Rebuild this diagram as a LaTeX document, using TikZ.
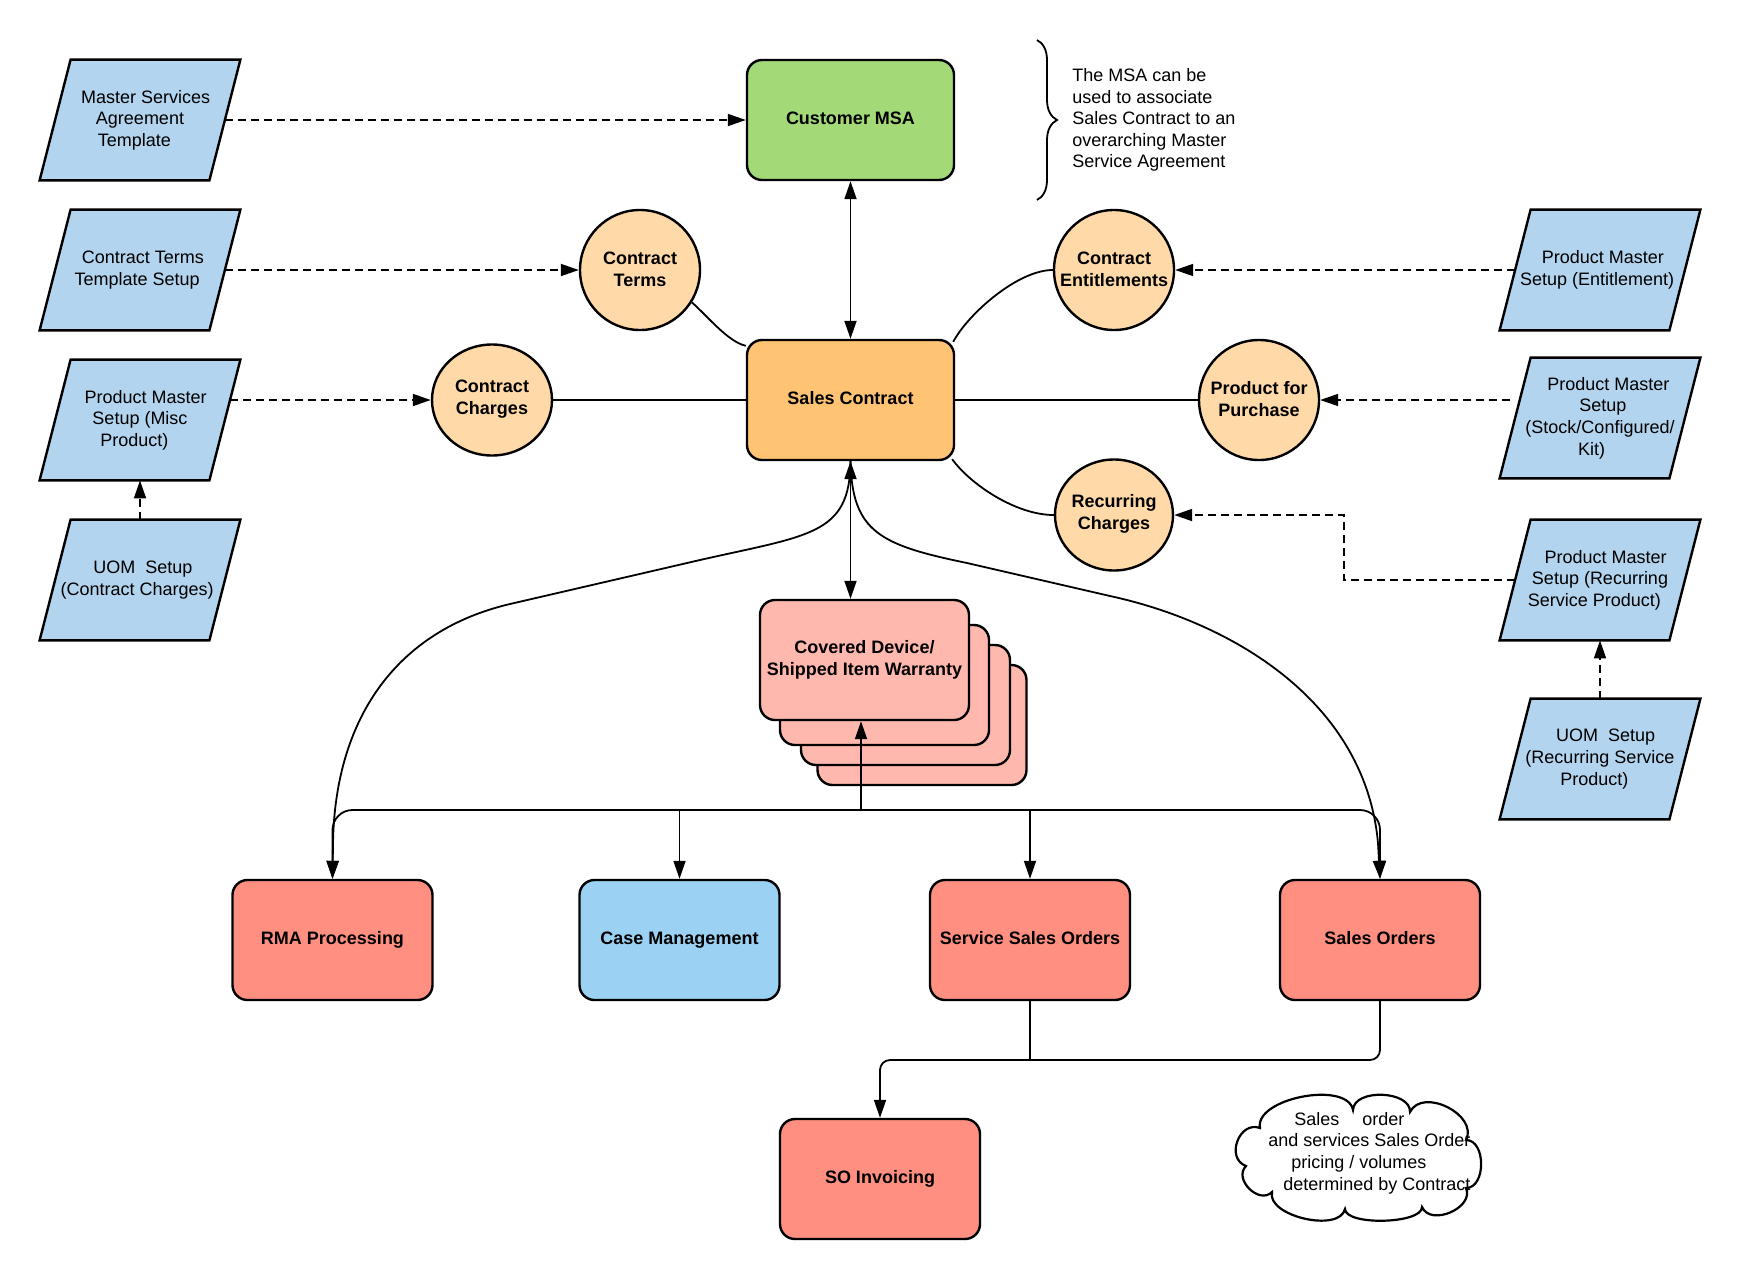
\documentclass[tikz,border=0pt]{standalone}
\usepackage{fontspec}
\setmainfont{Liberation Sans}
\usetikzlibrary{arrows.meta,shapes.geometric,calc,decorations.pathreplacing,backgrounds}
\definecolor{pblue}{HTML}{B2D4EE}
\definecolor{mgreen}{HTML}{A3D977}
\definecolor{scorange}{HTML}{FFC374}
\definecolor{peach}{HTML}{FFDAA8}
\definecolor{wpink}{HTML}{FFB8AE}
\definecolor{boxred}{HTML}{FF8F80}
\definecolor{caseblue}{HTML}{9BD1F2}
\begin{document}
\begin{tikzpicture}[x=0.5pt,y=-0.5pt,
 txt/.style={font=\fontsize{9pt}{10.8pt}\selectfont},
 bold/.style={font=\fontsize{9pt}{10.8pt}\selectfont\bfseries},
 para/.style={txt,minimum width=100pt,minimum height=60pt,inner sep=0pt,align=center},
 pshape/.style={draw,fill=pblue,line width=1.2pt,line join=miter},
 box/.style={bold,draw,line width=1.2pt,rounded corners=7.5pt,minimum width=100pt,minimum height=60pt,inner sep=0pt,align=center,text depth=2pt},
 circ/.style={draw,line width=1.2pt,ellipse,fill=peach,inner sep=0pt,minimum width=60pt,minimum height=60pt},
 ctext/.style={bold,align=center,inner sep=0pt},
 conn/.style={line width=0.9pt},
 arr/.style={-{Triangle[length=9pt,width=6pt]}},
 darr/.style={{Triangle[length=9pt,width=6pt]}-{Triangle[length=9pt,width=6pt]}},
 dsh/.style={conn,dash pattern=on 4pt off 2.5pt},
]
\useasboundingbox (0,0) rectangle (1740,1280);

% parallelogram text holders
\node[para] (p1) at (140,120) {\hspace*{5.6pt}Master Services\\Agreement\\Template\hspace*{5.6pt}};
\node[para] (p2) at (140,270) {\hspace*{2.8pt}Contract Terms\\Template Setup\hspace*{2.8pt}};
\node[para] (p3) at (140,420) {\hspace*{5.6pt}Product Master\\Setup (Misc\\Product)\hspace*{5.6pt}};
\node[para] (p4) at (140,580) {\hspace*{2.8pt}UOM\ \ Setup\\(Contract Charges)\hspace*{2.8pt}};
\node[para] (p5) at (1600,270) {\hspace*{2.8pt}Product Master\\Setup (Entitlement)\hspace*{2.8pt}};
\node[para] (p6) at (1600,418) {\hspace*{8.4pt}Product Master\\\hspace*{2.8pt}Setup\\(Stock/Configured/\hspace*{2.8pt}\\Kit)\hspace*{8.4pt}};
\node[para] (p7) at (1600,580) {\hspace*{5.6pt}Product Master\\Setup (Recurring\\Service Product)\hspace*{5.6pt}};
\node[para] (p8) at (1600,759) {\hspace*{5.6pt}UOM\ \ Setup\\(Recurring Service\\Product)\hspace*{5.6pt}};

% main boxes
\node[box,fill=mgreen,minimum width=103.5pt] (msa) at (850.5,120) {Customer MSA};
\node[box,fill=scorange,minimum width=103.5pt] (sc) at (850.5,400) {Sales Contract};

% circles
\node[circ] (ct) at (640,270) {};
\node[ctext] (ct-t) at (640,269) {Contract\\Terms};
\node[circ] (ce) at (1114,270) {};
\node[ctext] (ce-t) at (1114,269) {Contract\\Entitlements};
\node[circ,minimum height=55.5pt] (cc) at (492,400) {};
\node[ctext] (cc-t) at (492,399) {Contract\\Charges};
\node[circ] (pp) at (1259,400) {};
\node[ctext] (pp-t) at (1259,399) {Product for\\Purchase};
\node[circ,minimum width=59pt,minimum height=55.5pt] (rc) at (1114,515) {};
\node[ctext] (rc-t) at (1114,514) {Recurring\\Charges};

% stack
\node[box,fill=wpink,minimum width=104.5pt] (st4) at (922,725) {};
\node[box,fill=wpink,minimum width=104.5pt] (st3) at (905.5,705) {};
\node[box,fill=wpink,minimum width=104.5pt] (st2) at (884.5,685) {};
\node[box,fill=wpink,minimum width=104.5pt] (st1) at (864.5,660) {Covered Device/\\Shipped Item Warranty};

% bottom boxes
\node[box,fill=boxred] (rma) at (332.5,940) {RMA Processing};
\node[box,fill=caseblue] (case) at (679.5,940) {Case Management};
\node[box,fill=boxred] (sso) at (1030,940) {Service Sales Orders};
\node[box,fill=boxred] (so) at (1380,940) {Sales Orders};
\node[box,fill=boxred] (inv) at (880,1179) {SO Invoicing};

% note and brace
\coordinate (b1) at (1037,40);
\coordinate (b2) at (1037,200);
\draw[line width=0.9pt,decorate,decoration={brace,amplitude=10pt}] (b1) -- (b2);
\node[txt,anchor=west,align=left,inner sep=0pt] (note) at (1072,120) {The MSA can be\\used to associate\\Sales Contract to an\\overarching Master\\Service Agreement};

% cloud (drawn as puffs between valley points)
\coordinate (v1) at (1260,1128);
\coordinate (v2) at (1353,1110);
\coordinate (v3) at (1410,1112);
\coordinate (v4) at (1466,1140);
\coordinate (v5) at (1466,1188);
\coordinate (v6) at (1422,1207);
\coordinate (v7) at (1345,1209);
\coordinate (v8) at (1272,1192);
\coordinate (v9) at (1246,1166);
\draw[line width=1.1pt,fill=white]
  (v9) .. controls ($(v9)!0.55!90:(v1)$) and ($(v1)!0.55!-90:(v9)$) .. (v1)
       .. controls ($(v1)!0.32!90:(v2)$) and ($(v2)!0.32!-90:(v1)$) .. (v2)
       .. controls ($(v2)!0.38!90:(v3)$) and ($(v3)!0.38!-90:(v2)$) .. (v3)
       .. controls ($(v3)!0.45!90:(v4)$) and ($(v4)!0.45!-90:(v3)$) .. (v4)
       .. controls ($(v4)!0.42!90:(v5)$) and ($(v5)!0.42!-90:(v4)$) .. (v5)
       .. controls ($(v5)!0.45!90:(v6)$) and ($(v6)!0.45!-90:(v5)$) .. (v6)
       .. controls ($(v6)!0.22!90:(v7)$) and ($(v7)!0.22!-90:(v6)$) .. (v7)
       .. controls ($(v7)!0.33!90:(v8)$) and ($(v8)!0.33!-90:(v7)$) .. (v8)
       .. controls ($(v8)!0.5!90:(v9)$) and ($(v9)!0.5!-90:(v8)$) .. (v9) -- cycle;
\node[txt,align=left,anchor=west,inner sep=0pt] (cl-t) at (1268,1153) {\hspace*{13pt}Sales\hspace{9pt} order\\and services Sales Order\\\hspace*{11.5pt}pricing / volumes\\\hspace*{7.5pt}determined by Contract};

% dashed connectors
\draw[dsh,arr] ([xshift=-7.75pt]p1.east) -- (msa.west);
\draw[dsh,arr] ([xshift=-7.75pt]p2.east) -- (ct.west);
\draw[dsh,arr] ([xshift=-5.2pt,yshift=10pt]p3.east) -- (cc.west);
\draw[dsh,arr] (p4.north) -- (p3.south);
\draw[dsh,arr] ([xshift=7.75pt]p5.west) -- (ce.east);
\draw[dsh,arr] ([xshift=5.2pt,yshift=9pt]p6.west) -- (pp.east);
\coordinate (kk) at (1344,515);
\draw[dsh,arr] ([xshift=7.75pt]p7.west) -| (kk) -- (rc.east);
\draw[dsh,arr] (p8.north) -- (p7.south);

% solid connectors
\draw[conn,darr] (msa.south) -- (sc.north);
\draw[conn] (ct.-32) .. controls +(15,13) and +(-18,-4) .. ([yshift=-3.5pt]sc.north west);
\draw[conn] (ce.west) .. controls +(-35,0) and +(15,-28) .. ([xshift=-1pt,yshift=-1.5pt]sc.north east);
\draw[conn] ([xshift=-1.5pt,yshift=1pt]sc.south east) .. controls +(18,25) and +(-38,0) .. (rc.west);
\draw[conn] (cc.east) -- (sc.west);
\draw[conn] (sc.east) -- (pp.west);

\draw[conn,arr] (sc.south) .. controls (850,535) and (810,535) .. (700,560) -- (510,604) .. controls (395,631) and (335,720) .. (333,843) -- (rma.north);
\draw[conn,arr] (sc.south) .. controls (852,532) and (880,545) .. (967,563) -- (1110,596) .. controls (1230,622) and (1365,700) .. (1378,843) -- (so.north);
\draw[conn,darr] (sc.south) -- (sc.south |- st1.north);

\coordinate (bus) at (861,810);
\draw[conn,arr] (bus) -- (bus |- st1.south);
\draw[conn,arr,rounded corners=10pt] (bus) -| (rma.north);
\draw[conn,arr,rounded corners=10pt] (bus) -| (so.north);
\draw[conn,arr] (case.north |- bus) -- (case.north);
\draw[conn,arr] (sso.north |- bus) -- (sso.north);

\coordinate (jn) at (1030,1060);
\draw[conn] (sso.south) -- (jn);
\draw[conn,arr,rounded corners=5pt] (so.south) |- (inv.north |- jn) -- (inv.north);

\begin{scope}[on background layer]
\fill[white] (0,0) rectangle (1740,1280);
\foreach \n in {p1,p2,p3,p4,p5,p6,p7,p8}
  \draw[pshape] ([xshift=15.5pt]\n.north west) -- (\n.north east) -- ([xshift=-15.5pt]\n.south east) -- (\n.south west) -- cycle;
\end{scope}
\end{tikzpicture}
\end{document}
